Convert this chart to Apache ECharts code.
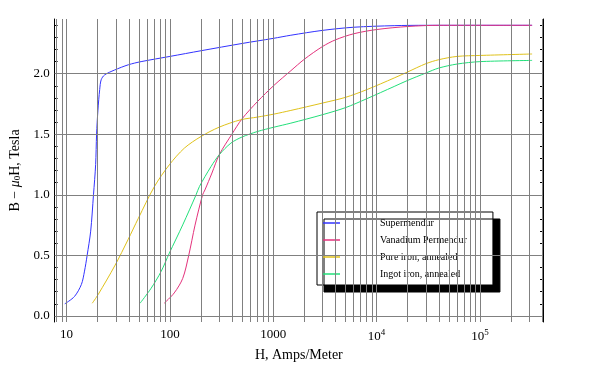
<!DOCTYPE html>
<html>
<head>
<meta charset="utf-8">
<script src="https://cdn.jsdelivr.net/npm/echarts@6/dist/echarts.min.js"></script>
<style>
html, body { margin: 0; background: #fff; }
#main { width: 600px; height: 375px; }
</style>
</head>
<body>
<div id="main"></div>
<script>
// B-H curves, H in A/m, B - mu0 H in tesla
var names = ['Supermendur', 'Vanadium Permendur', 'Pure iron, annealed', 'Ingot iron, annealed'];
var colors = ['#3333ff', '#e4327c', '#e0c21a', '#22e07a'];

var superH = [9.6, 11.9, 13.9, 14.9, 15.8, 17.1, 18.2, 19.1, 19.5, 20.1, 20.9, 21.6, 23.3, 29, 39.6, 52.6, 100, 200, 500, 1000, 1480, 3000, 6000, 14800, 30000, 320000];
var superB = [0.10, 0.16, 0.26, 0.37, 0.50, 0.70, 1.00, 1.25, 1.50, 1.70, 1.87, 1.95, 1.99, 2.03, 2.074, 2.10, 2.143, 2.19, 2.25, 2.292, 2.318, 2.358, 2.384, 2.397, 2.40, 2.40];

var vanH = [88, 110, 133, 152, 175, 207, 218, 255, 300, 400, 497, 703, 1019, 1480, 2000, 3000, 4000, 6000, 10000, 20000, 40000, 320000];
var vanB = [0.105, 0.19, 0.31, 0.50, 0.75, 1.0, 1.04, 1.18, 1.331, 1.504, 1.626, 1.77, 1.905, 2.025, 2.12, 2.225, 2.28, 2.33, 2.365, 2.39, 2.40, 2.40];

var pureH = [17.7, 20.1, 29.5, 39.2, 49.5, 70.8, 98.6, 138, 200, 300, 485, 703, 1019, 1480, 3000, 5000, 8000, 14800, 20000, 30000, 40000, 60000, 100000, 320000];
var pureB = [0.105, 0.174, 0.42, 0.628, 0.807, 1.069, 1.248, 1.386, 1.482, 1.559, 1.62, 1.642, 1.667, 1.697, 1.758, 1.805, 1.868, 1.965, 2.015, 2.083, 2.116, 2.143, 2.151, 2.163];

var ingotH = [51.4, 65.8, 82, 98.6, 133, 179, 193, 250, 300, 389, 497, 703, 1019, 1480, 3000, 5000, 8000, 14800, 20000, 30000, 40000, 60000, 100000, 320000];
var ingotB = [0.105, 0.229, 0.366, 0.518, 0.752, 1.0, 1.069, 1.234, 1.331, 1.427, 1.477, 1.523, 1.559, 1.592, 1.662, 1.72, 1.793, 1.895, 1.945, 2.006, 2.047, 2.08, 2.10, 2.11];

var yLabels = [0, 0.5, 1.0, 1.5, 2.0];
var xMin = 7.66, xMax = 408000;
var yMin = -0.05, yMax = 2.452;

function zip(h, b) {
    var out = [];
    for (var i = 0; i < h.length; i++) out.push([h[i], b[i]]);
    return out;
}

// vertical grid at 1..9 x 10^k
var vLines = [];
for (var k = 0; k <= 5; k++) {
    for (var m = 1; m <= 9; m++) {
        var v = m * Math.pow(10, k);
        if (v > xMin && v < xMax) vLines.push({ xAxis: v });
    }
}
var hLines = yLabels.map(function (v) { return { yAxis: v }; });

var yTicks = [];
for (var t = 0; t <= 24; t++) yTicks.push(t / 10);

var font = 'Liberation Serif';

var myChart = echarts.init(document.getElementById('main'));

var series = [{
    name: 'grid',
    type: 'line',
    data: [],
    z: 1,
    silent: true,
    markLine: {
        silent: true,
        symbol: 'none',
        animation: false,
        label: { show: false },
        lineStyle: { color: '#808080', width: 1, type: 'solid' },
        data: vLines.concat(hLines)
    }
}];
var lists = [[superH, superB], [vanH, vanB], [pureH, pureB], [ingotH, ingotB]];
for (var s = 0; s < 4; s++) {
    series.push({
        name: names[s],
        type: 'line',
        z: 3,
        showSymbol: false,
        smooth: 0.3,
        lineStyle: { color: colors[s], width: 1 },
        itemStyle: { color: colors[s] },
        data: zip(lists[s][0], lists[s][1])
    });
}

var option = {
    animation: false,
    backgroundColor: '#fff',
    grid: { left: 53, right: 57, top: 19, bottom: 53 },
    legend: {
        data: names,
        orient: 'vertical',
        left: 317,
        top: 212,
        icon: 'rect',
        itemWidth: 18,
        itemHeight: 1.5,
        itemGap: 5,
        padding: [5, 26, 5, 5],
        backgroundColor: '#fff',
        borderColor: '#000',
        borderWidth: 1,
        borderRadius: 0,
        shadowColor: '#000',
        shadowBlur: 0,
        shadowOffsetX: 7,
        shadowOffsetY: 7,
        formatter: function (n) { return '{g|}' + n; },
        textStyle: {
            fontFamily: font, fontSize: 10, color: '#000', lineHeight: 12,
            rich: { g: { width: 35 } }
        }
    },
    xAxis: [{
        type: 'log',
        min: xMin,
        max: xMax,
        name: 'H, Amps/Meter',
        nameLocation: 'middle',
        nameGap: 25,
        nameTextStyle: { fontFamily: font, fontSize: 14, color: '#000' },
        axisLine: { lineStyle: { color: '#000', width: 1 } },
        axisTick: { show: false },
        splitLine: { show: false },
        axisLabel: {
            fontFamily: font,
            fontSize: 13,
            color: '#000',
            margin: 6,
            formatter: function (v) {
                var p = Math.log10(v);
                if (Math.abs(p - Math.round(p)) > 1e-6) return '';
                p = Math.round(p);
                if (p < 1 || p > 5) return '';
                if (p <= 3) return String(Math.pow(10, p));
                return '10{sup|' + p + '}';
            },
            rich: { sup: { fontFamily: font, fontSize: 9, verticalAlign: 'top', padding: [0, 0, 8, 0] } }
        }
    }, {
        type: 'log',
        position: 'top',
        min: xMin,
        max: xMax,
        axisLine: { lineStyle: { color: '#000', width: 1 } },
        axisTick: { show: false },
        axisLabel: { show: false },
        splitLine: { show: false }
    }],
    yAxis: [{
        type: 'value',
        min: yMin,
        max: yMax,
        name: 'B \u2212 {i|\u03bc}{sub|0}H, Tesla',
        nameLocation: 'middle',
        nameRotate: 90,
        nameGap: 24,
        nameTextStyle: {
            fontFamily: font, fontSize: 14, color: '#000',
            rich: {
                i: { fontFamily: font, fontSize: 14, fontStyle: 'italic' },
                sub: { fontFamily: font, fontSize: 9, verticalAlign: 'bottom', padding: [6, 0, 0, 0] }
            }
        },
        axisLine: { show: true, lineStyle: { color: '#000', width: 1 } },
        axisTick: { show: true, inside: true, length: 3, customValues: yTicks, lineStyle: { color: '#000' } },
        splitLine: { show: false },
        axisLabel: {
            customValues: yLabels,
            fontFamily: font,
            fontSize: 13,
            color: '#000',
            margin: 5,
            formatter: function (v) { return v.toFixed(1); }
        }
    }, {
        type: 'value',
        position: 'right',
        min: yMin,
        max: yMax,
        axisLine: { show: true, lineStyle: { color: '#000', width: 1 } },
        axisTick: { show: true, inside: true, length: 3, customValues: yTicks, lineStyle: { color: '#000' } },
        splitLine: { show: false },
        axisLabel: { show: false }
    }],
    series: series
};
myChart.setOption(option);
</script>
</body>
</html>
